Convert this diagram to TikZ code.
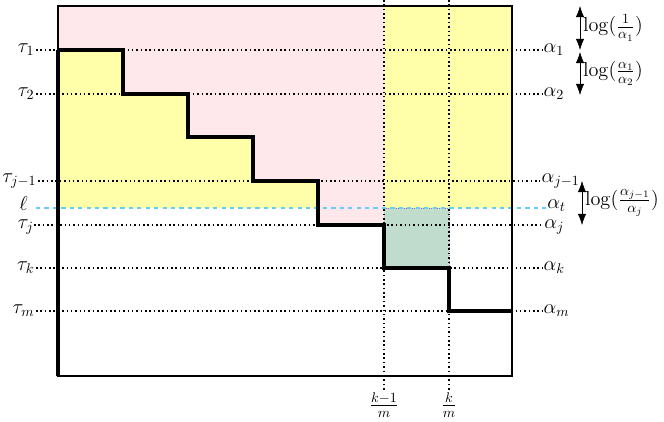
\documentclass[tikz,border=0pt]{standalone}
\usepackage{tikz}
\usetikzlibrary{positioning}
\usetikzlibrary{calc}
\usetikzlibrary{arrows.meta}
\definecolor{pinkfill}{RGB}{255,232,236}
\definecolor{yellowfill}{RGB}{255,255,170}
\definecolor{greenfill}{RGB}{192,220,204}
\tikzset{
    mylabel/.style = {inner sep=1pt, text=black, font=\Large},
    mylabelt/.style = {inner sep=0pt, text=black, font=\Large}, % tight ones
    edgestair/.style = {-, line width=2.2pt, black},
    edgeframe/.style = {-, line width=1.5pt, black},
    edgedot/.style = {-, line width=1.1pt, black, dotted},
    edgedash/.style = {-, thick, cyan!60, dashed}, % level l
    edgelog/.style = {{Latex[length=2.8mm]}-{Latex[length=2.8mm]}, thin, black}
}

\begin{document}
\begin{tikzpicture}[x=0.025cm, y=-0.025cm]
  \useasboundingbox (0,0) rectangle (664,421);

  % regions
  \fill[pinkfill] (58,6) -- (384,6) -- (384,225) -- (318,225) -- (318,181) -- (253,181)
    -- (253,137) -- (188,137) -- (188,94) -- (123,94) -- (123,50) -- (58,50) -- cycle;
  \fill[yellowfill] (58,50) -- (123,50) -- (123,94) -- (188,94) -- (188,137) -- (253,137)
    -- (253,181) -- (318,181) -- (318,208) -- (58,208) -- cycle;
  \fill[yellowfill] (384,6) rectangle (512,208);
  \fill[greenfill] (384,208) rectangle (449,268);
  \draw[violet!60, densely dotted] (384,208) -- (449,208) -- (449,268);

  % labels
  \node[mylabel, anchor=east] (t1) at (36,50) {$\tau_1$};
  \node[mylabel, anchor=east] (t2) at (36,94) {$\tau_2$};
  \node[mylabel, anchor=east] (tj1) at (38,181) {$\tau_{j-1}$};
  \node[mylabelt, anchor=east] (l) at (28,203) {$\ell$};
  \node[mylabelt, anchor=east] (tj) at (34,227) {$\tau_j$};
  \node[mylabel, anchor=east] (tk) at (36,268) {$\tau_k$};
  \node[mylabel, anchor=east] (tm) at (36,311) {$\tau_m$};
  \node[mylabel, anchor=west] (a1) at (542,50) {$\alpha_1$};
  \node[mylabel, anchor=west] (a2) at (542,94) {$\alpha_2$};
  \node[mylabel, anchor=west] (aj1) at (540,181) {$\alpha_{j-1}$};
  \node[mylabelt, anchor=west] (at) at (547,206) {$\alpha_t$};
  \node[mylabelt, anchor=west] (aj) at (544,227) {$\alpha_j$};
  \node[mylabel, anchor=west] (ak) at (542,268) {$\alpha_k$};
  \node[mylabel, anchor=west] (am) at (542,311) {$\alpha_m$};
  \node[mylabel] (fk1) at (384,405) {$\frac{k-1}{m}$};
  \node[mylabel] (fk) at (449,405) {$\frac{k}{m}$};
  \coordinate (top1) at (384,0);
  \coordinate (top2) at (449,0);

  % dotted levels
  \foreach \a/\b in {t1/a1, t2/a2, tj1/aj1, tk/ak, tm/am}
    \draw[edgedot] (\a) -- (\b);
  \draw[edgedot] (tj.east |- 0,225) -- (aj.west |- 0,225);
  \draw[edgedot] (top1) -- (fk1);
  \draw[edgedot] (top2) -- (fk);
  \draw[edgedash] (36,208) -- (at.west |- 0,208);

  % frame and stairs
  \draw[edgeframe] (58,6) rectangle (512,376);
  \draw[edgestair] (58,50) -- (123,50) -- (123,94) -- (188,94) -- (188,137) -- (253,137)
    -- (253,181) -- (318,181) -- (318,225) -- (384,225) -- (384,268) -- (449,268)
    -- (449,311) -- (512,311);
  \draw[edgestair] (58,50) -- (58,376);

  % log gaps
  \coordinate (g0) at (580,6);
  \coordinate (g1) at (580,50);
  \coordinate (g1b) at (580,52);
  \coordinate (g2) at (580,95);
  \coordinate (g3) at (582,181);
  \coordinate (g4) at (582,225);
  \draw[edgelog] (g0) -- (g1);
  \draw[edgelog] (g1b) -- (g2);
  \draw[edgelog] (g3) -- (g4);
  \node[mylabel, right=1pt of $(g0)!0.5!(g1)$] (lg1) {$\log(\frac{1}{\alpha_1})$};
  \node[mylabel, right=1pt of $(g1b)!0.5!(g2)$] (lg2) {$\log(\frac{\alpha_1}{\alpha_2})$};
  \node[mylabel, right=1pt of $(g3)!0.5!(g4)$] (lg3) {$\log(\frac{\alpha_{j-1}}{\alpha_j})$};
\end{tikzpicture}
\end{document}
